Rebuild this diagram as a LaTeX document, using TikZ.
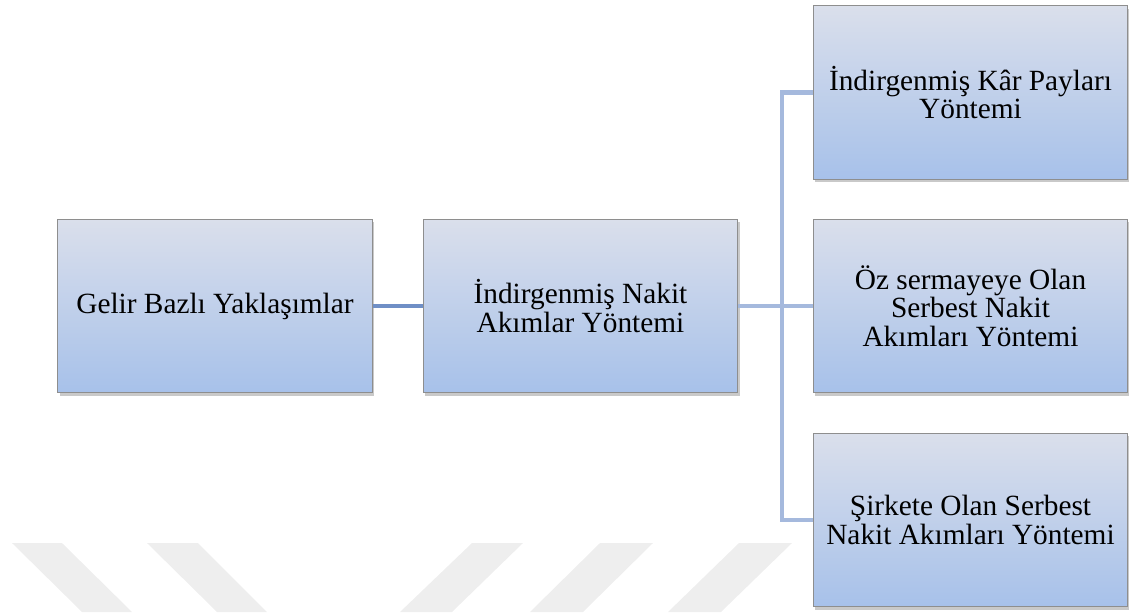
\documentclass[tikz,border=0pt]{standalone}
\usepackage{fontspec}
\setmainfont{Liberation Serif}
\usetikzlibrary{shadows}
\definecolor{boxtop}{HTML}{DADFEB}
\definecolor{boxbot}{HTML}{A7C1EA}
\definecolor{boxedge}{HTML}{8E8E8E}
\definecolor{linkdark}{HTML}{6F8FC6}
\definecolor{linklight}{HTML}{A5B9DD}
\definecolor{stripe}{HTML}{EEEEEE}
\tikzset{
  box/.style={rectangle, draw=boxedge, line width=0.7pt,
    top color=boxtop, bottom color=boxbot,
    minimum width=236pt, minimum height=130pt, inner sep=0pt,
    align=center, text=black,
    font=\fontsize{22}{21.4}\selectfont,
    drop shadow={shadow xshift=1.5pt, shadow yshift=-2.2pt, opacity=0.3, fill=black!70}},
  darklink/.style={draw=linkdark, line width=3.6pt},
  lightlink/.style={draw=linklight, line width=3.6pt, line join=miter},
  band/.style={fill=stripe, draw=none}
}
\begin{document}
\begin{tikzpicture}[x=0.75pt, y=-0.75pt]
\useasboundingbox (0,0) rectangle (1129,612);

% light diagonal bands along the bottom edge
\fill[band] (12,543) -- (62,543) -- (132,612) -- (82,612) -- cycle;
\fill[band] (147,543) -- (198,543) -- (267,612) -- (217,612) -- cycle;
\fill[band] (472,543) -- (523,543) -- (452,612) -- (400,612) -- cycle;
\fill[band] (600,543) -- (653,543) -- (583,612) -- (530,612) -- cycle;
\fill[band] (739,543) -- (792,543) -- (721,612) -- (668,612) -- cycle;

% boxes
\node[box] (gelir) at (215,306) {Gelir Bazlı Yaklaşımlar};
\node[box] (inak) at (580.5,306) {İndirgenmiş Nakit\\Akımlar Yöntemi};
\node[box] (kar) at (970.5,92.5) {İndirgenmiş Kâr Payları\\Yöntemi};
\node[box] (oz) at (970.5,306) {Öz sermayeye Olan\\Serbest Nakit\\Akımları Yöntemi};
\node[box] (sirket) at (970.5,520) {Şirkete Olan Serbest\\Nakit Akımları Yöntemi};

% connectors
\coordinate (hub) at (782,306);
\draw[darklink] (gelir.east) -- (inak.west);
\draw[lightlink] (inak.east) -- (oz.west);
\draw[lightlink] (kar.west) -| (hub) |- (sirket.west);
\end{tikzpicture}
\end{document}
